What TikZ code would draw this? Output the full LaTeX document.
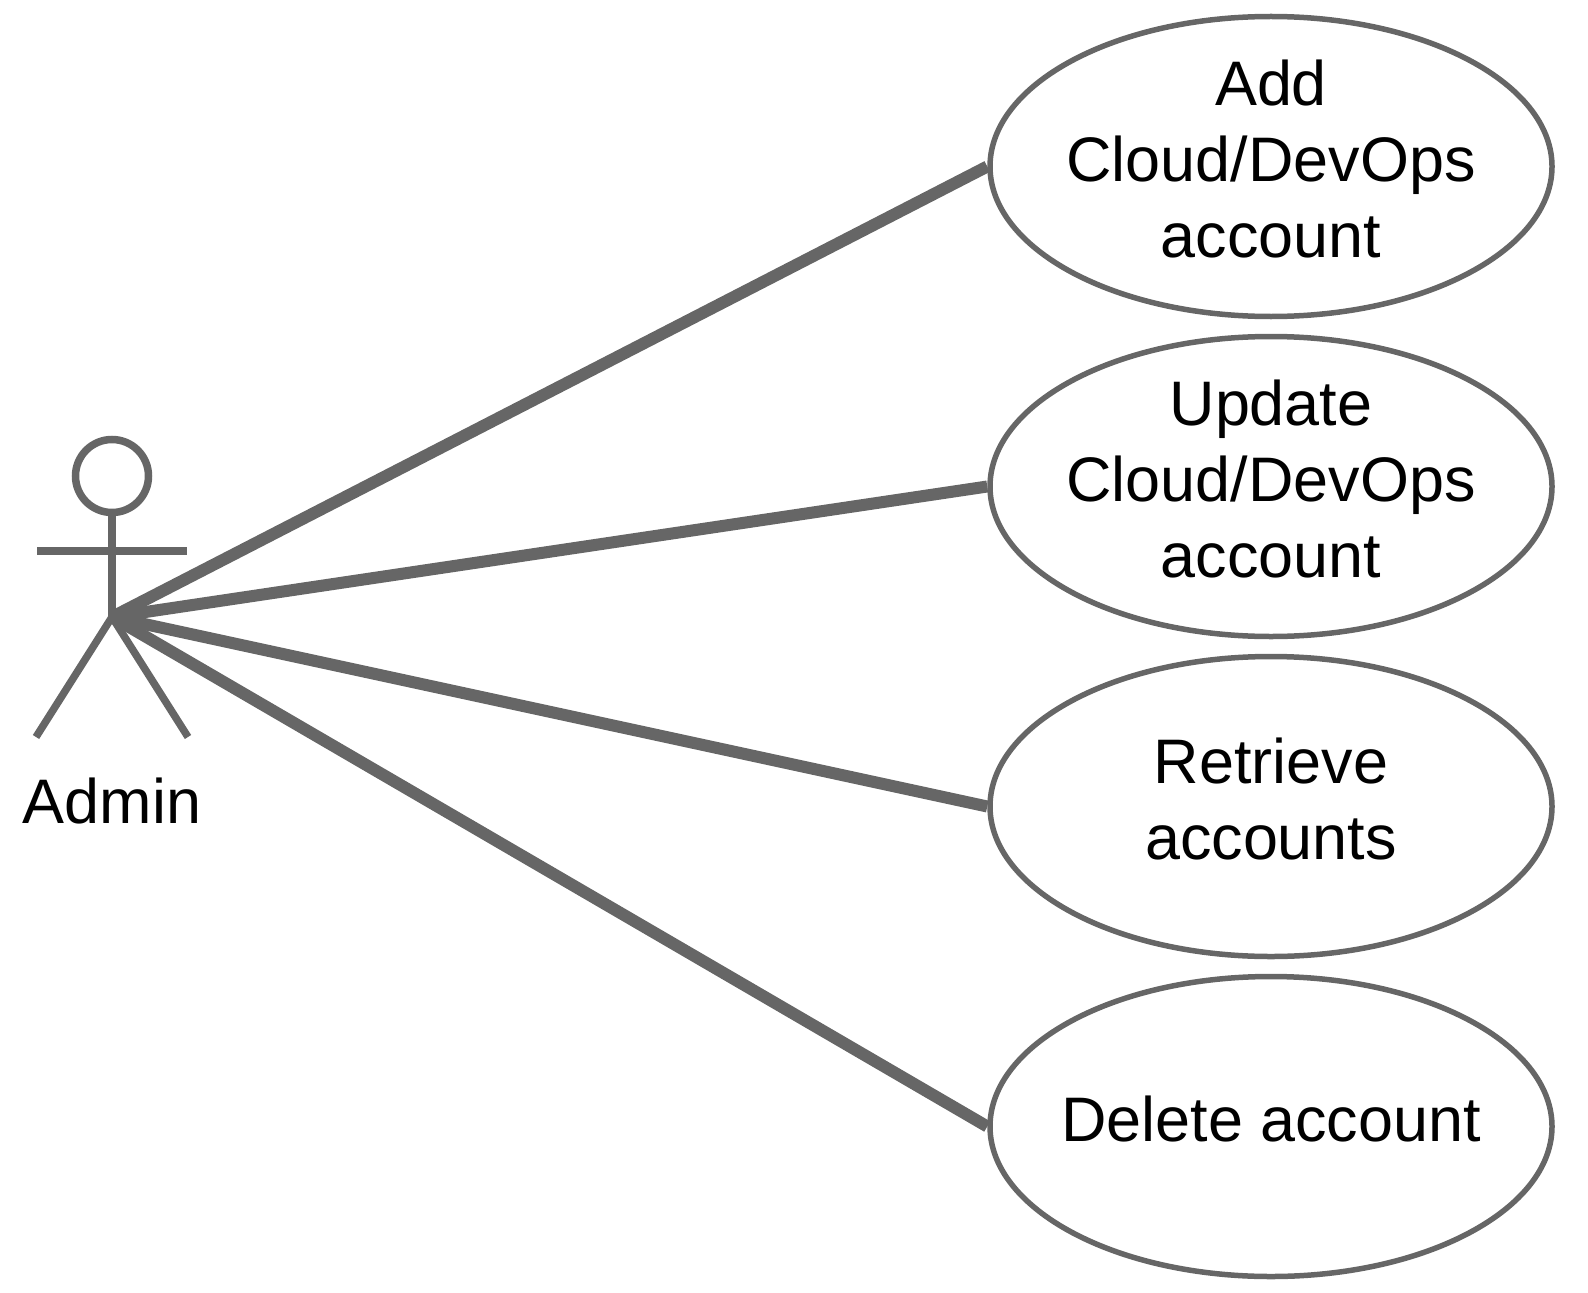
\documentclass[tikz,border=0pt]{standalone}
\usepackage{fontspec}
\setmainfont{Liberation Sans}
\usetikzlibrary{shapes.geometric}
\definecolor{linegray}{RGB}{102,102,102}
\tikzset{
  usecase/.style={draw=linegray,line width=0.11cm,ellipse,inner xsep=-3cm,inner ysep=-1cm,minimum width=11.24cm,minimum height=6cm,align=center,font=\fontsize{35.8}{43}\selectfont},
  assoc/.style={draw=linegray,line width=0.24cm},
  stick/.style={draw=linegray,line width=0.15cm}
}
\begin{document}
\begin{tikzpicture}[x=1cm,y=1cm]
\useasboundingbox (0,0) rectangle (31.76,-25.84);
\node[usecase] (add) at (25.42,-3.33) {Add\\Cloud/DevOps\\account\\[-1.2cm]};
\node[usecase] (update) at (25.42,-9.73) {Update\\Cloud/DevOps\\account\\[-1.2cm]};
\node[usecase] (retrieve) at (25.42,-16.13) {Retrieve\\accounts\\[-1.2cm]};
\node[usecase] (delete) at (25.42,-22.53) {Delete account\\[-1.2cm]};
\node[stick,circle,inner sep=0pt,minimum size=1.46cm] (head) at (2.24,-9.52) {};
\coordinate (hip) at (2.24,-12.34);
\coordinate (armL) at (0.74,-11.02);
\coordinate (armR) at (3.74,-11.02);
\coordinate (footL) at (0.72,-14.74);
\coordinate (footR) at (3.76,-14.74);
\draw[stick] (head) -- (hip);
\draw[stick] (armL) -- (armR);
\draw[stick] (footL) -- (hip) -- (footR);
\node[font=\fontsize{35.8}{43}\selectfont] (admin) at (2.24,-16.02) {Admin};
\draw[assoc] (hip) -- (add.west);
\draw[assoc] (hip) -- (update.west);
\draw[assoc] (hip) -- (retrieve.west);
\draw[assoc] (hip) -- (delete.west);
\end{tikzpicture}
\end{document}
